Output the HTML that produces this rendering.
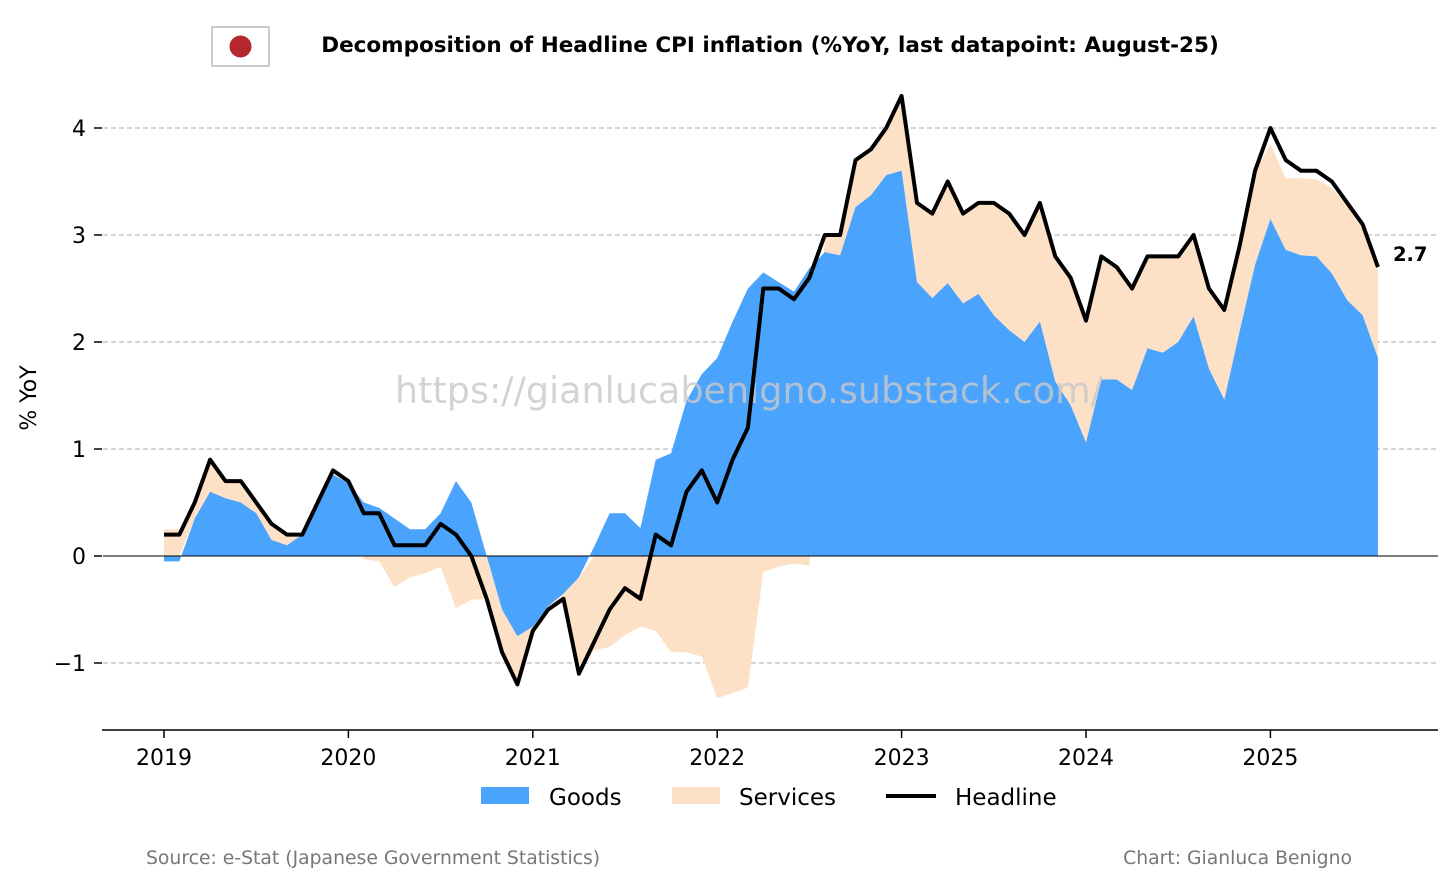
<!DOCTYPE html>
<html><head><meta charset="utf-8">
<style>
html,body{margin:0;padding:0;background:#fff;}
body{width:1456px;height:885px;overflow:hidden;font-family:"Liberation Sans","DejaVu Sans",sans-serif;}
svg text{font-family:"DejaVu Sans","Liberation Sans",sans-serif;}
</style></head>
<body>
<svg id="chart" width="1456" height="885" viewBox="0 0 1456 885" xmlns="http://www.w3.org/2000/svg">
  <rect x="212" y="27" width="57" height="39" fill="#fff" stroke="#999" stroke-width="1"/>
  <circle cx="240.5" cy="46.5" r="11" fill="#b5272d"/>
  <text x="770" y="52" text-anchor="middle" font-size="21.5" font-weight="bold" fill="#000">Decomposition of Headline CPI inflation (%YoY, last datapoint: August-25)</text>
  <g id="grid"></g>
  <g id="areas"></g>
  <g id="axes"></g>
  <text x="749" y="403" text-anchor="middle" font-size="36.5" fill="#c8c8c8" fill-opacity="0.8">https://gianlucabenigno.substack.com/</text>
  <g id="lines"></g>
  <text x="36" y="398" text-anchor="middle" font-size="22" transform="rotate(-90 36 398)">% YoY</text>
  <g>
    <rect x="481" y="787" width="48" height="17" fill="#4aa3fc"/>
    <text x="549" y="805" font-size="23">Goods</text>
    <rect x="672" y="787" width="48" height="17" fill="#fde1c7"/>
    <text x="739" y="805" font-size="23">Services</text>
    <line x1="886" y1="796" x2="936" y2="796" stroke="#000" stroke-width="4"/>
    <text x="955" y="805" font-size="23">Headline</text>
  </g>
  <text x="146" y="864" font-size="18.8" fill="#777">Source: e-Stat (Japanese Government Statistics)</text>
  <text x="1352" y="864" text-anchor="end" font-size="18.8" fill="#777">Chart: Gianluca Benigno</text>
</svg>
<script>
const years = [2019, 2020, 2021, 2022, 2023, 2024, 2025];
const yTicks = [-1, 0, 1, 2, 3, 4];
const yTickLabels = ["\u22121", "0", "1", "2", "3", "4"];
const headline = [0.2,0.2,0.5,0.9,0.7,0.7,0.5,0.3,0.2,0.2,0.5,0.8,
  0.7,0.4,0.4,0.1,0.1,0.1,0.3,0.2,0.0,-0.4,-0.9,-1.2,
  -0.7,-0.5,-0.4,-1.1,-0.8,-0.5,-0.3,-0.4,0.2,0.1,0.6,0.8,
  0.5,0.9,1.2,2.5,2.5,2.4,2.6,3.0,3.0,3.7,3.8,4.0,
  4.3,3.3,3.2,3.5,3.2,3.3,3.3,3.2,3.0,3.3,2.8,2.6,
  2.2,2.8,2.7,2.5,2.8,2.8,2.8,3.0,2.5,2.3,2.9,3.6,
  4.0,3.7,3.6,3.6,3.5,3.3,3.1,2.7];
const goods = [-0.05,-0.05,0.35,0.6,0.54,0.5,0.4,0.15,0.1,0.2,0.5,0.76,
  0.68,0.5,0.45,0.35,0.25,0.25,0.4,0.7,0.5,0.0,-0.5,-0.75,
  -0.66,-0.47,-0.35,-0.2,0.09,0.4,0.4,0.26,0.9,0.96,1.45,1.7,
  1.85,2.19,2.5,2.65,2.56,2.47,2.69,2.84,2.81,3.26,3.37,3.56,
  3.6,2.56,2.41,2.55,2.36,2.45,2.25,2.11,2.0,2.19,1.63,1.41,
  1.06,1.65,1.65,1.55,1.94,1.9,2.0,2.24,1.75,1.46,2.1,2.72,
  3.15,2.86,2.81,2.8,2.64,2.39,2.25,1.85];
const services = [0.25,0.25,0.15,0.28,0.16,0.2,0.1,0.15,0.1,0.0,0.0,0.04,
  0.02,-0.03,-0.05,-0.29,-0.2,-0.16,-0.1,-0.49,-0.41,-0.4,-0.4,-0.45,
  -0.04,-0.03,-0.05,-0.9,-0.88,-0.85,-0.74,-0.66,-0.7,-0.9,-0.9,-0.94,
  -1.33,-1.28,-1.23,-0.15,-0.1,-0.07,-0.09,0.16,0.19,0.44,0.43,0.44,
  0.7,0.74,0.79,0.95,0.84,0.85,1.05,1.09,1.0,1.11,1.17,1.19,
  1.14,1.15,1.05,0.95,0.86,0.9,0.8,0.76,0.75,0.84,0.8,0.88,
  0.7,0.67,0.72,0.72,0.8,0.88,0.8,0.82];
const lastLabel = "2.7";

const NS = "http://www.w3.org/2000/svg";
const X0 = 164, PX_PER_MONTH = 184.4/12;
const Y0 = 556, PX_PER_UNIT = 107;
function xM(i){ return X0 + i*PX_PER_MONTH; }
function xY(yr){ return X0 + (yr-2019)*12*PX_PER_MONTH; }
function yV(v){ return Y0 - v*PX_PER_UNIT; }
function mk(tag, attrs, parent){
  const e = document.createElementNS(NS, tag);
  for (const k in attrs) e.setAttribute(k, attrs[k]);
  parent.appendChild(e); return e;
}
const grid = document.getElementById('grid');
const areas = document.getElementById('areas');
const axes = document.getElementById('axes');
const lines = document.getElementById('lines');

yTicks.forEach((t, k) => {
  if (t !== 0) {
    const g = mk('line', {x1:103, x2:1438, y1:yV(t), y2:yV(t), stroke:'#bbb', 'stroke-width':1.3, 'stroke-dasharray':'5,3'}, grid);
    
    
  }
  const tk = mk('line', {x1:94, x2:102, y1:yV(t), y2:yV(t), stroke:'#000', 'stroke-width':1.5}, axes);
  
  
  const lb = mk('text', {x:86, y:yV(t)+8, 'text-anchor':'end', 'font-size':22}, axes);
  lb.textContent = yTickLabels[k];
  
  
});

const n = headline.length;
const gLo=[], gHi=[], sLo=[], sHi=[];
for (let i=0;i<n;i++){
  const g = goods[i], s = services[i];
  gLo.push(0); gHi.push(g);
  if ((g>=0 && s>=0) || (g<0 && s<0)) { sLo.push(g); sHi.push(g+s); }
  else { sLo.push(0); sHi.push(s); }
}
function band(lo, hi, color, name){
  let d = '';
  for (let i=0;i<n;i++) d += (i?'L':'M') + xM(i).toFixed(2) + ',' + yV(hi[i]).toFixed(2);
  for (let i=n-1;i>=0;i--) d += 'L' + xM(i).toFixed(2) + ',' + yV(lo[i]).toFixed(2);
  const p = mk('path', {d:d+'Z', fill:color, stroke:'none'}, areas);
  
  
}
band(sLo, sHi, '#fde1c7', 'services-area');
band(gLo, gHi, '#4aa3fc', 'goods-area');

const zl = mk('line', {x1:103, x2:1438, y1:Y0, y2:Y0, stroke:'#000', 'stroke-width':1}, axes);


const xa = mk('line', {x1:102, x2:1438, y1:730, y2:730, stroke:'#000', 'stroke-width':1.5}, axes);


years.forEach(yr => {
  const t = mk('line', {x1:xY(yr), x2:xY(yr), y1:730, y2:738, stroke:'#000', 'stroke-width':1.5}, axes);
  
  
  const l = mk('text', {x:xY(yr), y:765, 'text-anchor':'middle', 'font-size':22}, axes);
  l.textContent = String(yr);
  
  
});

let d = '';
for (let i=0;i<n;i++) d += (i?'L':'M') + xM(i).toFixed(2) + ',' + yV(headline[i]).toFixed(2);
const hl = mk('path', {d:d, fill:'none', stroke:'#000', 'stroke-width':4, 'stroke-linejoin':'round'}, lines);


const lab = mk('text', {x:xM(n-1)+15, y:yV(headline[n-1])-6, 'font-size':19.5, 'font-weight':'bold'}, lines);
lab.textContent = lastLabel;


</script>
</body></html>
